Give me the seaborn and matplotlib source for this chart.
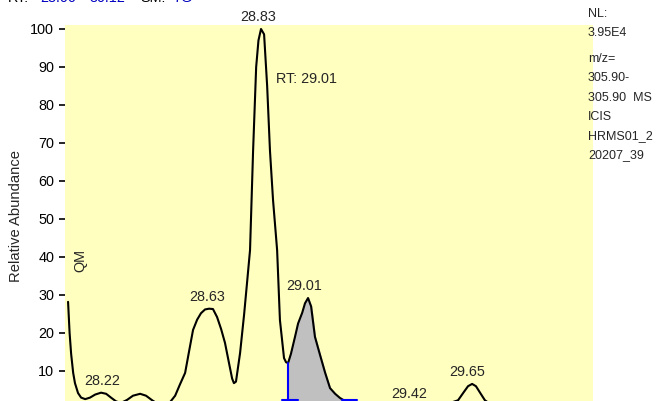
# Chromatogram (XIC) redraw: relative abundance vs retention time

import matplotlib
matplotlib.use("Agg")
import matplotlib.pyplot as plt
import numpy as np
import pandas as pd
import seaborn as sns

# retention time (min) and relative abundance (%)
rt = [28.071, 28.077, 28.083, 28.091, 28.098, 28.110, 28.122, 28.138, 28.157,
      28.177, 28.200, 28.220, 28.239, 28.259, 28.278, 28.302, 28.325, 28.353,
      28.376, 28.400, 28.423, 28.447, 28.470, 28.490, 28.509, 28.529, 28.544,
      28.560, 28.576, 28.591, 28.607, 28.623, 28.638, 28.654, 28.670, 28.685,
      28.701, 28.713, 28.720, 28.728, 28.744, 28.760, 28.771, 28.783, 28.795,
      28.807, 28.816, 28.826, 28.838, 28.850, 28.861, 28.873, 28.889, 28.900,
      28.916, 28.924, 28.932, 28.943, 28.959, 28.971, 28.987, 28.998, 29.010,
      29.022, 29.037, 29.057, 29.077, 29.096, 29.116, 29.135, 29.155, 29.174,
      29.213, 29.272, 29.350, 29.409, 29.468, 29.526, 29.566, 29.597, 29.620,
      29.636, 29.652, 29.667, 29.683, 29.702, 29.730, 29.800, 29.918, 30.035,
      30.125]
abundance = [28.2, 20.0, 14.5, 9.5, 6.8, 4.2, 3.0, 2.6, 3.0,
             3.8, 4.3, 4.0, 3.0, 2.0, 1.6, 2.4, 3.5, 4.0,
             3.5, 2.3, 1.3, 1.0, 1.8, 3.5, 6.5, 9.5, 15.0,
             20.8, 23.5, 25.2, 26.2, 26.4, 26.3, 24.2, 21.0, 17.4,
             12.0, 8.0, 6.8, 7.2, 14.7, 25.0, 33.0, 41.8, 68.0,
             90.0, 97.0, 100.0, 98.6, 85.0, 68.0, 55.0, 41.8, 23.4,
             13.4, 12.3, 12.1, 14.5, 19.0, 22.5, 25.3, 27.8, 29.2,
             27.0, 19.0, 14.2, 9.5, 5.5, 4.0, 2.9, 2.1, 1.5,
             1.0, 0.5, 0.4, 0.8, 0.4, 1.0, 1.6, 2.3, 4.5,
             6.0, 6.6, 6.0, 4.3, 2.3, 1.0, 0.8, 1.0, 0.8,
             0.9]

# peak apex labels
peak_labels = ["28.22", "28.63", "28.83", "29.01", "29.42", "29.65"]
peak_rt = [28.22, 28.63, 28.83, 29.01, 29.42, 29.65]
peak_height = [4.3, 26.4, 100.0, 29.2, 0.8, 6.6]

# integrated peak (RT: 29.01)
area_start = 28.932
area_end = 29.172
area_baseline = 2.4

y_ticks = [10, 20, 30, 40, 50, 60, 70, 80, 90, 100]
info_lines = ["NL:", "3.95E4", "m/z=", "305.90-", "305.90  MS",
              "ICIS", "HRMS01_2", "20207_39"]

sns.set_style("white")
plt.rcParams['font.family'] = ['Liberation Sans', 'DejaVu Sans']

W, H = 672, 401
fig = plt.figure(figsize=(W / 100, H / 100), dpi=100)


def px(x, y):
    # pixel position (from top-left) -> figure fraction
    return x / W, 1 - y / H


# axes box: x 65..593 px, top at 25 px, bottom runs off the picture
ax = fig.add_axes([65 / W, 1 - 420.4 / H, 528 / W, 395.4 / H])
ax.set_facecolor('#FFFFC0')

df = pd.DataFrame({'RT': rt, 'Abundance': abundance})

# shaded integrated area
sub = df[(df['RT'] >= area_start) & (df['RT'] <= area_end)]
x_fill = np.r_[area_start, sub['RT'], area_end]
y_fill = np.r_[np.interp(area_start, rt, abundance), sub['Abundance'],
               np.interp(area_end, rt, abundance)]
ax.fill_between(x_fill, y_fill, area_baseline, color='#C0C0C0', zorder=1)

sns.lineplot(data=df, x='RT', y='Abundance', color='black', lw=1.5,
             estimator=None, ax=ax, zorder=3)

# blue integration markers
ax.plot([area_start, area_start],
        [area_baseline, np.interp(area_start, rt, abundance)],
        color='#0000FF', lw=1.5, zorder=4)
for b in (area_start + 0.008, area_end):
    ax.plot([b - 0.031, b + 0.031], [area_baseline, area_baseline],
            color='#0000FF', lw=1.5, zorder=4)

# peak labels
for lab, x, y in zip(peak_labels, peak_rt, peak_height):
    ax.annotate(lab, (x, y), xytext=(-4, 12), textcoords='offset pixels',
                ha='center', va='center', fontsize=10.4, annotation_clip=False)

ax.set_xlim(28.059, 30.125)
ax.set_ylim(-3, 101.05)
ax.set_yticks(y_ticks)
ax.set_xticks([])
ax.tick_params(axis='y', direction='out', length=4.3, width=1.2, pad=3.5,
               labelsize=10.4, left=True, colors='black')
for s in ax.spines.values():
    s.set_visible(False)
ax.set_xlabel('')
ax.set_ylabel('Relative Abundance', fontsize=10.6)
ax.yaxis.set_label_coords(-0.08, 0.517)

# QM and RT annotation
fig.text(*px(80, 260), 'QM', rotation=90, ha='center', va='center',
         fontsize=10.4)
fig.text(*px(276, 79), 'RT: 29.01', ha='left', va='center', fontsize=10.4)

# instrument info column on the right
info_y = [14, 33, 59, 78, 98, 117, 136, 155]
for t, y in zip(info_lines, info_y):
    fig.text(*px(588, y), t, ha='left', va='center', fontsize=9)

# header line, mostly cut off at the top
header = [("RT:", 'black', 8), ("28.06", '#0000C0', 40), ("-", '#0000C0', 77),
          ("30.12", '#0000C0', 90), ("SM:", 'black', 140), ("7G", '#0000C0', 173)]
for t, c, x in header:
    fig.text(*px(x, 2), t, color=c, ha='left', va='baseline', fontsize=10.4)

fig.savefig('out.png', dpi=100)
